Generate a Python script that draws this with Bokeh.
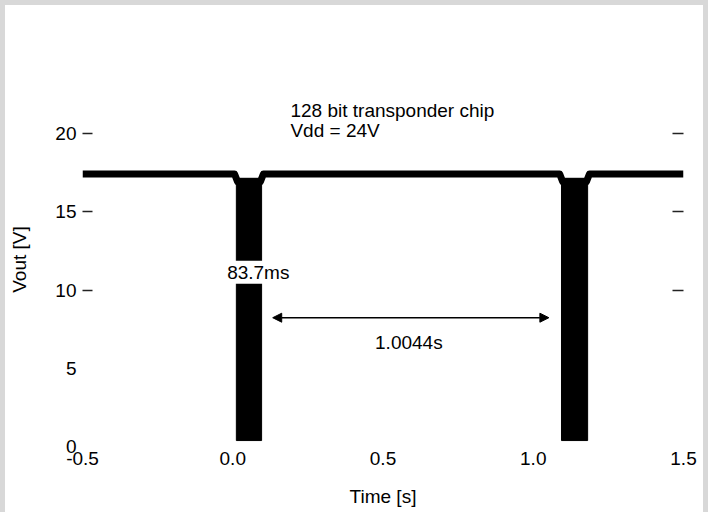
from bokeh.plotting import figure
from bokeh.models import (Range1d, LinearAxis, FixedTicker, Label, Arrow, NormalHead,
                          NumeralTickFormatter, Grid)
from bokeh.core.properties import value
from bokeh.embed import file_html
from bokeh.resources import INLINE

# ---- data ----
x_ticks = [-0.5, 0.0, 0.5, 1.0, 1.5]
y_ticks = [0, 5, 10, 15, 20]
y_tick_marks = [10, 15, 20]

# supply level trace (Vout) with notches at the pulses
sig_t = [-0.5, 0.006, 0.016, 0.092, 0.102, 1.088, 1.098, 1.177, 1.187, 1.5]
sig_v = [17.42, 17.42, 16.92, 16.92, 17.42, 17.42, 16.92, 16.92, 17.42, 17.42]

# modulated bursts (drawn as filled blocks)
pulse_start = [0.012, 1.094]
pulse_end = [0.096, 1.181]
pulse_low = [0.38, 0.38]
pulse_high = [17.14, 17.14]

title_lines = ["128 bit transponder chip", "Vdd = 24V"]
title_t = [0.192, 0.192]
title_v = [21.48, 20.2]

burst_label = "83.7ms"
burst_label_pos = (0.085, 11.14)
gap_label = "1.0044s"
gap_label_pos = (0.586, 6.67)
gap_arrow_t = [0.133, 1.052]
gap_arrow_v = 8.23

FONT = "Liberation Sans"
FS = "19px"

p = figure(width=708, height=512,
           x_range=Range1d(-0.5, 1.5), y_range=Range1d(0, 23.9),
           output_backend="svg", toolbar_location=None,
           x_axis_location=None, y_axis_location=None,
           min_border_left=77, min_border_right=30,
           min_border_top=67, min_border_bottom=71,
           background_fill_color="white", border_fill_color="white",
           outline_line_color=None)
p.styles = {"border-left": "5px solid #d8d8d8",
            "border-top": "5px solid #d8d8d8",
            "border-right": "5px solid #d8d8d8"}

for r in list(p.center):
    if isinstance(r, Grid):
        r.visible = False

blank = {t: "" for t in y_tick_marks}

# tick-only left axis (nearest the frame)
tick_axis_l = LinearAxis(ticker=FixedTicker(ticks=y_tick_marks, minor_ticks=[]),
                         axis_line_color=None, major_tick_in=10, major_tick_out=0,
                         major_tick_line_color="#222222", major_tick_line_width=1.5,
                         minor_tick_line_color=None,
                         major_label_overrides=blank, major_label_standoff=0)
p.add_layout(tick_axis_l, "left")

label_axis_l = LinearAxis(ticker=FixedTicker(ticks=y_ticks, minor_ticks=[]),
                          axis_line_color=None, major_tick_line_color=None,
                          minor_tick_line_color=None,
                          major_tick_in=0, major_tick_out=0,
                          major_label_standoff=6,
                          major_label_text_font=FONT, major_label_text_font_size=FS,
                          major_label_text_color="black",
                          axis_label="Vout [V]", axis_label_text_font=FONT,
                          axis_label_text_font_size=FS, axis_label_text_font_style="normal",
                          axis_label_text_color="black", axis_label_standoff=22)
p.add_layout(label_axis_l, "left")

tick_axis_r = LinearAxis(ticker=FixedTicker(ticks=y_tick_marks, minor_ticks=[]),
                         axis_line_color=None, major_tick_in=11, major_tick_out=0,
                         major_tick_line_color="#222222", major_tick_line_width=1.5,
                         minor_tick_line_color=None,
                         major_label_overrides=blank, major_label_standoff=0)
p.add_layout(tick_axis_r, "right")

xaxis = LinearAxis(ticker=FixedTicker(ticks=x_ticks, minor_ticks=[]),
                   formatter=NumeralTickFormatter(format="0.0"),
                   axis_line_color=None, major_tick_line_color=None,
                   minor_tick_line_color=None, major_tick_in=0, major_tick_out=0,
                   major_label_standoff=5,
                   major_label_text_font=FONT, major_label_text_font_size=FS,
                   major_label_text_color="black",
                   axis_label="Time [s]", axis_label_text_font=FONT,
                   axis_label_text_font_size=FS, axis_label_text_font_style="normal",
                   axis_label_text_color="black", axis_label_standoff=18)
p.add_layout(xaxis, "below")

# bursts
p.quad(left=pulse_start, right=pulse_end, bottom=pulse_low, top=pulse_high,
       fill_color="black", line_color="black", line_width=1)
# supply trace
p.line(sig_t, sig_v, line_color="black", line_width=7, line_join="round")

# title text
p.text(x=title_t, y=title_v, text=title_lines, text_font=value(FONT),
       text_font_size=FS, text_color="black", text_baseline="middle",
       text_align="left")

p.add_layout(Label(x=burst_label_pos[0], y=burst_label_pos[1], text=burst_label,
                   text_font=FONT, text_font_size=FS, text_color="black",
                   text_align="center", text_baseline="middle",
                   background_fill_color="white", padding=1))

p.add_layout(Arrow(x_start=gap_arrow_t[0], x_end=gap_arrow_t[1],
                   y_start=gap_arrow_v, y_end=gap_arrow_v,
                   line_color="black", line_width=1.5,
                   start=NormalHead(size=9, fill_color="black", line_color="black"),
                   end=NormalHead(size=9, fill_color="black", line_color="black")))

p.add_layout(Label(x=gap_label_pos[0], y=gap_label_pos[1], text=gap_label,
                   text_font=FONT, text_font_size=FS, text_color="black",
                   text_align="center", text_baseline="middle"))

open("out.html", "w").write(file_html(p, INLINE))
